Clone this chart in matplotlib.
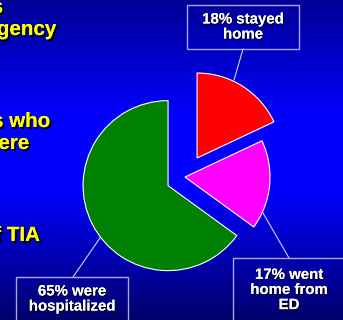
import numpy as np
import matplotlib
matplotlib.use("Agg")
import matplotlib.pyplot as plt
import matplotlib.patheffects as pe
from matplotlib.patches import Rectangle

# pie data (share of TIA patients)
labels = ["18% stayed\nhome", "17% went\nhome from\nED", "65% were\nhospitalized"]
shares = [18, 17, 65]
colors = ["#FF0000", "#FF00FF", "#008000"]

# slide text fragments that show at the left edge
side_text = ["s", "gency", "s who", "ere", "f TIA"]

W, H = 343, 320
plt.rcParams['font.family'] = ['Liberation Sans', 'DejaVu Sans']

fig = plt.figure(figsize=(W / 100, H / 100), dpi=100)
ax = fig.add_axes([0, 0, 1, 1])


def py(y):
    # pixel row (from top) -> data y
    return H - y


# blue background gradient, dark at top and bottom
rows = np.arange(H)
blue = np.interp(rows, [0, 120, 190, 320], [150, 255, 255, 105]) / 255.
grad = np.zeros((H, 1, 3))
grad[:, 0, 2] = blue
ax.imshow(grad, extent=(0, W, 0, H), aspect='auto', origin='upper', zorder=0)

wedges, _ = ax.pie(shares, colors=colors, startangle=90, counterclock=False,
                   explode=[22.5, 0, 19], radius=85, center=(185, py(177)),
                   wedgeprops=dict(edgecolor='white', linewidth=0.8))
for w in wedges:
    w.set_zorder(2)

# leader lines
line_col = "#D0D0FF"
leaders = [((243, 49), (234, 80)), ((263, 213), (289, 258)), ((73, 277), (100, 238))]
for (x0, y0), (x1, y1) in leaders:
    ax.plot([x0, x1], [py(y0), py(y1)], color=line_col, lw=0.8, zorder=3)

# label boxes (left, top, right, bottom in pixels)
boxes = [(187, 5, 299, 49), (233, 258, 350, 330), (16, 277, 128, 330)]
centres = [(243, 27), (289, 290), (72, 299)]
shadow = [pe.withSimplePatchShadow(offset=(0.8, -0.8), shadow_rgbFace='black', alpha=1.0), pe.Normal()]
for (l, t, r, b), (cx, cy), lab in zip(boxes, centres, labels):
    ax.add_patch(Rectangle((l, py(b)), r - l, b - t, facecolor='none',
                           edgecolor="#A8A8E8", lw=1.0, zorder=3))
    ax.text(cx, py(cy), lab, ha='center', va='center', color='white',
            fontsize=10.8, fontweight='bold', linespacing=1.1,
            path_effects=shadow, zorder=4)

# yellow slide text, cut off at the left edge
side_pos = [(3, 13), (56, 35), (50, 127), (29, 149), (40, 241)]
yshadow = [pe.withSimplePatchShadow(offset=(1.4, -1.4), shadow_rgbFace='black', alpha=1.0), pe.Normal()]
for txt, (x, y) in zip(side_text, side_pos):
    ax.text(x, py(y), txt, ha='right', va='baseline', color='#FFFF00',
            fontsize=14.8, fontweight='bold', path_effects=yshadow, zorder=4)

ax.set_xlim(0, W)
ax.set_ylim(0, H)
ax.set_axis_off()
fig.savefig("out.png", dpi=100)
